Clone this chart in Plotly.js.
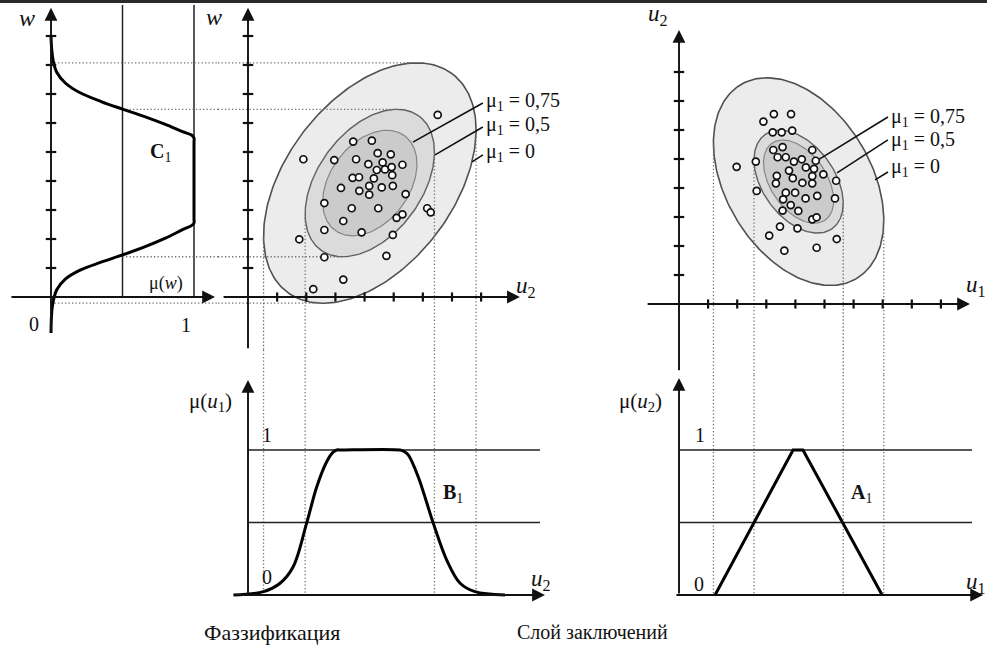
<!DOCTYPE html>
<html><head><meta charset="utf-8">
<script src="https://cdn.plot.ly/plotly-3.0.1.min.js"></script>
<style>html,body{margin:0;padding:0;background:#fff}#chart{width:987px;height:653px}</style>
</head><body><div id="chart"></div>
<script>
// ---------------- DATA ----------------
// Panel 1: membership function C1, mu(w) vs w
const c1Mu = [0, 0.01, 0.04, 0.10, 0.20, 0.35, 0.50, 0.65, 0.80, 0.92, 0.985, 1.0, 1.0, 1.0, 1.0, 0.985, 0.92, 0.80, 0.65, 0.50, 0.35, 0.20, 0.10, 0.04, 0.015, 0.004, 0];
const c1W  = [-1.24, -0.30, 0.25, 0.62, 0.92, 1.20, 1.45, 1.72, 2.03, 2.32, 2.47, 2.55, 2.70, 5.33, 5.48, 5.58, 5.70, 5.95, 6.23, 6.48, 6.74, 7.05, 7.38, 7.75, 8.15, 8.60, 8.98];
const p1RefMu = [0.5, 1];              // vertical reference lines
const p1RefTop = 10.07;
const wTicks = [1, 2, 3, 4, 5, 6, 7, 8, 9];

// Panel 2: cluster in (u2, w)
const p2U = [6.51,1.90,2.96,3.61,4.25,3.71,4.45,4.90,4.13,4.62,5.30,4.42,4.70,4.93,3.59,3.81,4.95,4.32,3.19,3.82,4.16,4.59,4.97,4.16,5.41,2.62,3.56,4.47,5.10,5.30,6.15,6.27,3.27,2.62,3.90,4.97,1.76,2.62,4.75,3.27,2.24];
const p2W = [6.28,4.75,4.72,5.36,5.39,4.75,4.96,4.92,4.58,4.64,4.56,4.38,4.40,4.48,4.11,4.13,4.20,4.09,3.76,3.66,3.83,3.78,3.83,3.53,3.55,3.24,3.06,3.06,2.73,2.85,3.06,2.92,2.62,2.31,2.23,2.14,1.99,1.37,1.42,0.60,0.27];
const p2UTicks = [1, 2, 3, 4, 5, 6, 7, 8];
const ellLevels = [0, 0.5, 0.75];
const p2EllCenter = [4.18, 3.93];
const p2EllA = [4.71, 2.86, 2.02];
const p2EllB = [2.88, 1.79, 1.36];
const p2EllAng = [53.1, 54, 54];
const p2LeadU = [[5.66, 8.06], [6.42, 8.06], [7.69, 8.06]];
const p2LeadW = [[5.34, 6.69], [4.90, 5.86], [4.66, 4.90]];
const levelLabels = ['μ<sub>1</sub> = 0,75', 'μ<sub>1</sub> = 0,5', 'μ<sub>1</sub> = 0'];

// Panel 3: cluster in (u1, u2)
const p3U1 = [1.98,2.90,3.26,3.85,3.22,3.53,3.89,3.24,3.56,4.58,2.64,3.39,3.67,3.95,4.22,4.36,4.70,4.96,3.36,3.78,3.33,3.91,4.24,4.58,4.58,4.64,5.40,2.67,3.67,3.99,4.35,4.75,5.36,3.58,3.84,3.56,4.10,4.58,4.73,3.47,4.07,3.10,5.42,4.73,3.62];
const p3U2 = [4.73,6.29,6.55,6.55,5.92,5.92,5.98,5.31,5.41,5.31,4.91,5.06,5.06,4.91,4.99,4.71,4.94,4.47,4.42,4.60,4.16,4.34,4.18,4.16,4.41,4.66,4.25,3.90,3.84,3.84,3.64,3.73,3.64,3.61,3.41,3.22,3.21,2.92,2.99,2.67,2.61,2.36,2.24,1.94,1.84];
const p3U1Ticks = [1, 2, 3, 4, 5, 6, 7, 8, 9];
const p3U2Ticks = [1, 2, 3, 4, 5, 6, 7, 8];
const p3EllCenter = [4.11, 4.22];
const p3EllA = [3.89, 1.99, 1.61];
const p3EllB = [2.50, 1.24, 0.96];
const p3EllAng = [-59.3, -54.6, -55.7];
const p3LeadU1 = [[4.67, 7.18], [5.43, 7.18], [6.74, 7.18]];
const p3LeadU2 = [[4.90, 6.45], [4.52, 5.66], [4.28, 4.55]];

// Panel 4: membership function B1, mu(u1) vs u2
const b1U  = [-0.50, 0.53, 1.10, 1.55, 2.01, 2.36, 2.70, 2.92, 3.05, 3.20, 5.22, 5.36, 5.50, 5.84, 6.36, 6.82, 7.28, 7.79, 8.82];
const b1Mu = [0, 0.023, 0.081, 0.195, 0.494, 0.747, 0.919, 0.985, 1.0, 1.0, 1.0, 0.99, 0.966, 0.816, 0.494, 0.241, 0.081, 0.023, 0];
const p4RefMu = [0.5, 1];
const p4RefEnd = 10.02;

// Panel 5: membership function A1, mu(u2) vs u1
const a1U  = [1.24, 3.92, 4.26, 6.98];
const a1Mu = [0, 1, 1, 0];
const p5RefMu = [0.5, 1];
const p5RefEnd = 10.07;

// ---------------- LAYOUT GEOMETRY ----------------
const W = 987, H = 653;
const FONT = 'Liberation Serif, Times New Roman, serif';
function dom(p0, p1, size, flip) { return flip ? [1 - p1 / size, 1 - p0 / size] : [p0 / size, p1 / size]; }
function rng(p0, p1, org, unit, up) { return up ? [(org - p1) / unit, (org - p0) / unit] : [(p0 - org) / unit, (p1 - org) / unit]; }

const X1 = {domain: dom(0, 218, W), range: rng(0, 218, 51, 143, false)};
const X2 = {domain: dom(218, 580, W), range: rng(218, 580, 248, 29.14, false)};
const X4 = {domain: dom(600, 987, W), range: rng(600, 987, 679, 29.1, false)};
const Y1 = {domain: dom(0, 350, H, true), range: rng(0, 350, 297, 29, true)};
const Y3 = {domain: dom(350, 653, H, true), range: rng(350, 653, 595, 145, true)};
const Y4 = {domain: dom(0, 375, H, true), range: rng(0, 375, 304, 29, true)};
const Y5 = {domain: dom(375, 653, H, true), range: rng(375, 653, 595, 145, true)};

function ellipse(c, a, b, deg) {
  const t = deg * Math.PI / 180, xs = [], ys = [];
  for (let i = 0; i <= 240; i++) {
    const p = 2 * Math.PI * i / 240, ex = a * Math.cos(p), ey = b * Math.sin(p);
    xs.push(c[0] + ex * Math.cos(t) - ey * Math.sin(t));
    ys.push(c[1] + ex * Math.sin(t) + ey * Math.cos(t));
  }
  return {x: xs, y: ys};
}
function extremes(e) {
  let iL = 0, iR = 0, iB = 0, iT = 0;
  e.x.forEach((v, i) => {
    if (v < e.x[iL]) iL = i; if (v > e.x[iR]) iR = i;
    if (e.y[i] < e.y[iB]) iB = i; if (e.y[i] > e.y[iT]) iT = i;
  });
  return {L: [e.x[iL], e.y[iL]], R: [e.x[iR], e.y[iR]], B: [e.x[iB], e.y[iB]], T: [e.x[iT], e.y[iT]]};
}

const p2Ell = p2EllA.map((a, i) => ellipse(p2EllCenter, a, p2EllB[i], p2EllAng[i]));
const p3Ell = p3EllA.map((a, i) => ellipse(p3EllCenter, a, p3EllB[i], p3EllAng[i]));
const fills = ['#ececec', '#dbdbdb', '#cbcbcb'];
const outl = ['#505050', '#606060', '#858585'];
const outw = [1.6, 1.4, 1.2];

const traces = [];
function line(xa, ya, x, y, color, width, dash, shape) {
  traces.push({type: 'scatter', mode: 'lines', xaxis: xa, yaxis: ya, x, y, hoverinfo: 'skip',
    line: {color, width, dash: dash || 'solid', shape: shape || 'linear'}});
}

// panel 1 reference verticals
p1RefMu.forEach(m => line('x', 'y', [m, m], [0, p1RefTop], '#222', 1.5));

// ellipses
[[p2Ell, 'x2', 'y'], [p3Ell, 'x4', 'y4']].forEach(([ells, xa, ya]) => {
  ells.forEach((e, i) => traces.push({type: 'scatter', mode: 'lines', xaxis: xa, yaxis: ya, x: e.x, y: e.y,
    fill: 'toself', fillcolor: fills[i], line: {color: outl[i], width: outw[i]}, hoverinfo: 'skip'}));
});

// dotted projection lines (levels mu=0 and mu=0.5)
const DOT = '#707070', DASH = '1.3px,2.2px', DW = 1.3;
[0, 1].forEach(k => {
  const ex2 = extremes(p2Ell[k]);
  [ex2.T, ex2.B].forEach(p => {
    line('x', 'y', [ellLevels[k], X1.range[1]], [p[1], p[1]], DOT, DW, DASH);
    line('x2', 'y', [X2.range[0], p[0]], [p[1], p[1]], DOT, DW, DASH);
  });
  [ex2.L, ex2.R].forEach(p => {
    line('x2', 'y', [p[0], p[0]], [p[1], Y1.range[0]], DOT, DW, DASH);
    line('x2', 'y3', [p[0], p[0]], [Y3.range[1], 0], DOT, DW, DASH);
  });
  const ex3 = extremes(p3Ell[k]);
  [ex3.L, ex3.R].forEach(p => {
    line('x4', 'y4', [p[0], p[0]], [p[1], Y4.range[0]], DOT, DW, DASH);
    line('x4', 'y5', [p[0], p[0]], [Y5.range[1], 0], DOT, DW, DASH);
  });
});

// reference lines in panels 4/5
p4RefMu.forEach(m => line('x2', 'y3', [0, p4RefEnd], [m, m], '#222', 1.4));
p5RefMu.forEach(m => line('x4', 'y5', [0, p5RefEnd], [m, m], '#222', 1.4));

// leader lines
p2LeadU.forEach((u, i) => line('x2', 'y', u, p2LeadW[i], '#111', 1.6));
p3LeadU1.forEach((u, i) => line('x4', 'y4', u, p3LeadU2[i], '#111', 1.6));

// membership curves
line('x', 'y', c1Mu, c1W, '#000', 3, 'solid', 'spline');
line('x2', 'y3', b1U, b1Mu, '#000', 3, 'solid', 'spline');
line('x4', 'y5', a1U, a1Mu, '#000', 3);

// tick marks
function ticks(xa, ya, x, y, sym, size) {
  traces.push({type: 'scatter', mode: 'markers', xaxis: xa, yaxis: ya, x, y, cliponaxis: false, hoverinfo: 'skip',
    marker: {symbol: sym, size, color: '#111', line: {width: 2.2, color: '#111'}}});
}
ticks('x', 'y', wTicks.map(() => 0), wTicks, 'line-ew', 7.5);
ticks('x2', 'y', wTicks.map(() => 0), wTicks, 'line-ew', 7.5);
ticks('x2', 'y', p2UTicks, p2UTicks.map(() => 0), 'line-ns', 6.5);
ticks('x4', 'y4', p3U2Ticks.map(() => 0), p3U2Ticks, 'line-ew', 7.5);
ticks('x4', 'y4', p3U1Ticks, p3U1Ticks.map(() => 0), 'line-ns', 6.5);

// data points
[[p2U, p2W, 'x2', 'y'], [p3U1, p3U2, 'x4', 'y4']].forEach(([x, y, xa, ya]) => traces.push({
  type: 'scatter', mode: 'markers', xaxis: xa, yaxis: ya, x, y, hoverinfo: 'skip',
  marker: {symbol: 'circle', size: 7, color: '#fff', line: {width: 1.7, color: '#111'}}}));

// ---------------- ANNOTATIONS ----------------
function axArrow(xr, yr, x0, y0, x1, y1) {
  return {xref: xr, yref: yr, axref: xr, ayref: yr, x: x1, y: y1, ax: x0, ay: y0, text: '',
    showarrow: true, arrowhead: 2, arrowsize: 1.35, arrowwidth: 1.9, arrowcolor: '#111', standoff: 0, startstandoff: 0};
}
function T(text, px, py, size, extra) {
  return Object.assign({xref: 'paper', yref: 'paper', x: px / W, y: 1 - py / H, text, showarrow: false,
    xanchor: 'center', yanchor: 'middle', font: {family: FONT, size, color: '#111'}}, extra || {});
}
const ann = [
  axArrow('x', 'y', -0.287, 0, 1.147, 0), axArrow('x', 'y', 0, -1.24, 0, 9.97),
  axArrow('x2', 'y', -0.89, 0, 9.33, 0), axArrow('x2', 'y', 0, -1.82, 0, 9.97),
  axArrow('x4', 'y4', -1.13, 0, 10.0, 0), axArrow('x4', 'y4', 0, -2.34, 0, 9.45),
  axArrow('x2', 'y3', -0.51, 0, 10.19, 0), axArrow('x2', 'y3', 0, 0, 0, 1.483),
  axArrow('x4', 'y5', -0.14, 0, 10.45, 0), axArrow('x4', 'y5', 0, 0, 0, 1.497),
  T('<i>w</i>', 27, 18, 24), T('<i>w</i>', 214, 17, 24),
  T('0', 34, 324, 20), T('1', 186, 325, 20),
  T('μ(<i>w</i>)', 166, 283, 18), T('<b>C</b><sub>1</sub>', 160, 152, 20),
  T('<i>u</i><sub>2</sub>', 526, 287, 23),
  T(levelLabels[0], 484, 101, 20, {xanchor: 'left'}),
  T(levelLabels[1], 484, 126, 20, {xanchor: 'left'}),
  T(levelLabels[2], 484, 152, 20, {xanchor: 'left'}),
  T('<i>u</i><sub>2</sub>', 658, 15, 23), T('<i>u</i><sub>1</sub>', 976, 286, 23),
  T(levelLabels[0], 889, 117, 20, {xanchor: 'left'}),
  T(levelLabels[1], 889, 141, 20, {xanchor: 'left'}),
  T(levelLabels[2], 889, 168, 20, {xanchor: 'left'}),
  T('μ(<i>u</i><sub>1</sub>)', 210, 402, 21), T('1', 267, 435, 20), T('0', 267, 577, 20),
  T('<b>B</b><sub>1</sub>', 453, 493, 20), T('<i>u</i><sub>2</sub>', 541, 580, 23),
  T('μ(<i>u</i><sub>2</sub>)', 640, 402, 21), T('1', 700, 435, 20), T('0', 699, 584, 20),
  T('<b>A</b><sub>1</sub>', 861, 493, 20), T('<i>u</i><sub>1</sub>', 976, 583, 23),
  T('Фаззификация', 272, 632, 22), T('Слой заключений', 592, 632, 20)
];

function ax(def, anchor) {
  return {domain: def.domain, range: def.range, anchor, visible: false, fixedrange: true,
    showgrid: false, zeroline: false, autorange: false};
}
const layout = {
  width: W, height: H, margin: {l: 0, r: 0, t: 0, b: 0, pad: 0},
  paper_bgcolor: '#fff', plot_bgcolor: 'rgba(0,0,0,0)', showlegend: false,
  font: {family: FONT},
  xaxis: ax(X1, 'y'), yaxis: ax(Y1, 'x'),
  xaxis2: ax(X2, 'y'), yaxis3: ax(Y3, 'x2'),
  xaxis4: ax(X4, 'y4'), yaxis4: ax(Y4, 'x4'), yaxis5: ax(Y5, 'x4'),
  annotations: ann,
  shapes: [{type: 'rect', xref: 'paper', yref: 'paper', x0: 0, x1: 1, y0: 1 - 3 / H, y1: 1,
    fillcolor: '#2a2a2a', line: {width: 0}}]
};
Plotly.newPlot('chart', traces, layout, {staticPlot: true, displayModeBar: false});
</script></body></html>
